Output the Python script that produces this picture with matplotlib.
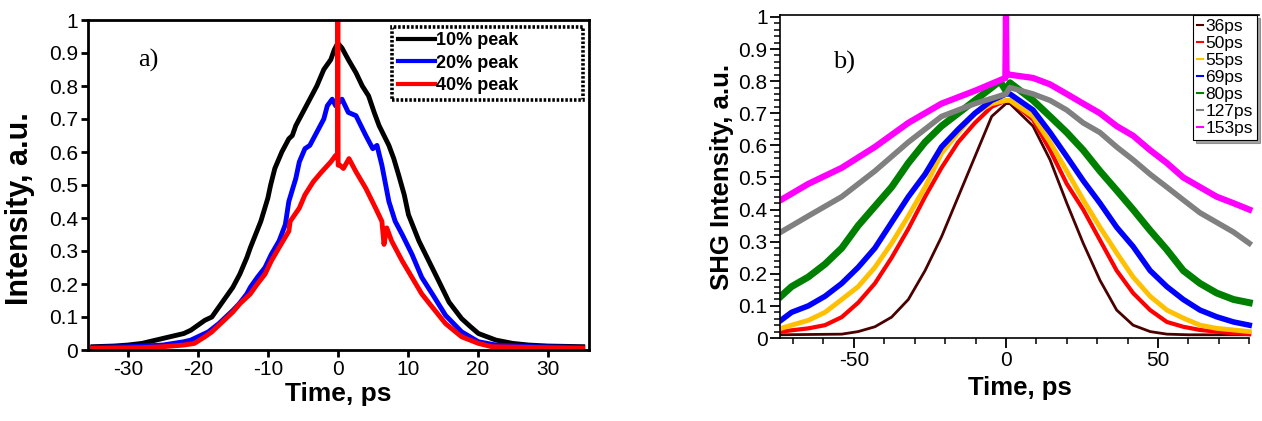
import matplotlib
matplotlib.use("Agg")
import matplotlib.pyplot as plt
from matplotlib.ticker import MultipleLocator, FuncFormatter

# ---------------- Panel a) data ----------------
t10 = [-35, -32, -30, -28, -26, -24, -22, -21, -20, -19, -18, -17, -16, -15, -14, -13, -12.5,
       -11, -10, -9.6, -9, -8, -7, -6.5, -6, -5, -4, -3, -2, -1, -0.5, 0, 0.6, 1.5, 2.6, 3.5,
       4.4, 5.2, 5.9, 7.3, 8, 8.7, 9.5, 10.1, 11.6, 13, 14.4, 15.9, 17.7, 19, 20.1, 22.6, 25,
       27.3, 30, 35]
y10 = [0.01, 0.012, 0.015, 0.02, 0.03, 0.04, 0.05, 0.06, 0.075, 0.09, 0.10, 0.13, 0.16, 0.19,
       0.23, 0.28, 0.31, 0.39, 0.46, 0.50, 0.55, 0.60, 0.64, 0.65, 0.68, 0.72, 0.76, 0.80, 0.85,
       0.88, 0.91, 0.93, 0.915, 0.88, 0.84, 0.80, 0.77, 0.72, 0.68, 0.62, 0.58, 0.53, 0.47,
       0.41, 0.33, 0.27, 0.21, 0.145, 0.095, 0.07, 0.05, 0.03, 0.02, 0.015, 0.012, 0.01]

t20 = [-35, -30, -25, -22, -21, -19.5, -18.5, -17, -16, -15, -14.1, -13, -12.5, -11.5, -10.4,
       -9.5, -8.4, -7.5, -7, -6, -5.5, -4.7, -4, -3, -2, -1.5, -0.8, -0.3, 0.6, 1.5, 2.6, 4, 5,
       5.6, 6.3, 7.3, 8.2, 9.2, 10.6, 12, 13.5, 15.4, 17.7, 20.1, 22.6, 28, 35]
y20 = [0.008, 0.01, 0.015, 0.025, 0.03, 0.045, 0.055, 0.08, 0.10, 0.12, 0.14, 0.17, 0.19, 0.22,
       0.25, 0.29, 0.33, 0.38, 0.45, 0.52, 0.57, 0.61, 0.62, 0.66, 0.70, 0.74, 0.76, 0.74, 0.76,
       0.72, 0.71, 0.65, 0.61, 0.62, 0.56, 0.45, 0.39, 0.35, 0.29, 0.22, 0.17, 0.105, 0.055,
       0.025, 0.015, 0.01, 0.008]

t40 = [-35, -28, -25, -22, -20.5, -19, -18, -17, -16, -15, -14, -12.5, -11.5, -10.4, -9.5, -8.4,
       -7, -6.8, -5.5, -4.7, -3.5, -2.3, -1, -0.3, -0.05, 0, 0.05, 0.3, 0.8, 1.6, 2.6, 4, 5.4,
       6.3, 6.6, 7, 7.7, 9.2, 10.6, 12, 13.5, 15.4, 17.7, 20.1, 22, 35]
y40 = [0.005, 0.007, 0.01, 0.015, 0.02, 0.04, 0.055, 0.075, 0.095, 0.115, 0.14, 0.17, 0.20,
       0.23, 0.27, 0.31, 0.36, 0.39, 0.43, 0.47, 0.51, 0.54, 0.57, 0.59, 0.58, 1.0, 0.56, 0.56,
       0.55, 0.58, 0.54, 0.49, 0.43, 0.39, 0.32, 0.37, 0.33, 0.27, 0.22, 0.17, 0.13, 0.08,
       0.04, 0.02, 0.01, 0.005]

labels_a = ["10% peak", "20% peak", "40% peak"]
colors_a = ["black", "#0000ff", "#ff0000"]

# ---------------- Panel b) data ----------------
t36 = [-74, -54, -48.6, -43.1, -37.6, -32.1, -26.6, -21.2, -15.7, -10.2, -4.7, 0, 1.3, 8.9,
       14.5, 20, 25.4, 30.9, 36.4, 41.8, 47.4, 52.9, 60, 80]
y36 = [0.01, 0.012, 0.02, 0.035, 0.065, 0.12, 0.21, 0.315, 0.44, 0.565, 0.69, 0.73, 0.73, 0.66,
       0.555, 0.42, 0.295, 0.18, 0.087, 0.04, 0.02, 0.012, 0.01, 0.01]

t50 = [-74, -65, -59.5, -54, -48.6, -43.1, -37.6, -32.1, -26.6, -21.2, -15.7, -10.2, -4.7, 0,
       1.3, 8.9, 14.5, 20, 25.4, 30.9, 36.4, 41.8, 47.4, 52.9, 58.3, 63.8, 74.8, 80]
y50 = [0.02, 0.03, 0.04, 0.065, 0.11, 0.17, 0.25, 0.34, 0.44, 0.53, 0.61, 0.67, 0.72, 0.74,
       0.74, 0.68, 0.585, 0.48, 0.40, 0.305, 0.21, 0.14, 0.087, 0.05, 0.035, 0.025, 0.015, 0.012]

t55 = [-74, -70.5, -65, -59.5, -54, -48.6, -43.1, -37.6, -32.1, -26.6, -21.2, -15.7, -10.2,
       -4.7, 0, 1.3, 8.9, 14.5, 20, 25.4, 30.9, 36.4, 41.8, 47.4, 52.9, 58.3, 63.8, 69.3, 74.8, 80]
y55 = [0.03, 0.04, 0.055, 0.08, 0.12, 0.16, 0.22, 0.295, 0.38, 0.47, 0.575, 0.64, 0.70, 0.73,
       0.74, 0.74, 0.69, 0.61, 0.52, 0.43, 0.345, 0.265, 0.19, 0.13, 0.087, 0.062, 0.04, 0.03,
       0.025, 0.02]

t69 = [-74, -70.5, -65, -59.5, -54, -48.6, -43.1, -37.6, -32.1, -26.6, -21.2, -15.7, -10.2,
       -4.7, 0, 1.3, 8.9, 14.5, 20, 25.4, 30.9, 36.4, 41.8, 47.4, 52.9, 58.3, 63.8, 69.3, 74.8, 80]
y69 = [0.055, 0.08, 0.10, 0.13, 0.17, 0.22, 0.28, 0.36, 0.44, 0.51, 0.595, 0.65, 0.70, 0.74,
       0.76, 0.76, 0.71, 0.64, 0.565, 0.49, 0.42, 0.345, 0.285, 0.21, 0.16, 0.12, 0.087, 0.066,
       0.05, 0.04]

t80 = [-74, -70.5, -65, -59.5, -54, -48.6, -43.1, -37.6, -32.1, -26.6, -21.2, -15.7, -10.2,
       -4.7, -2, 0, 1.3, 8.9, 14.5, 20, 25.4, 30.9, 36.4, 41.8, 47.4, 52.9, 58.3, 63.8, 69.3,
       74.8, 80]
y80 = [0.13, 0.16, 0.19, 0.23, 0.28, 0.35, 0.41, 0.47, 0.545, 0.61, 0.66, 0.70, 0.74, 0.78, 0.80,
       0.77, 0.795, 0.74, 0.69, 0.64, 0.585, 0.52, 0.46, 0.40, 0.335, 0.275, 0.21, 0.17, 0.14,
       0.12, 0.11]

t127 = [-74, -65, -54, -43.1, -32.1, -21.2, -10.2, 0, 1.3, 8.9, 14.5, 20, 25.4, 30.9, 36.4,
        41.8, 47.4, 52.9, 58.3, 63.8, 69.3, 74.8, 80]
y127 = [0.33, 0.38, 0.44, 0.52, 0.61, 0.69, 0.73, 0.76, 0.78, 0.76, 0.74, 0.71, 0.67, 0.64,
        0.595, 0.555, 0.51, 0.47, 0.43, 0.39, 0.36, 0.33, 0.295]

t153 = [-74, -65, -54, -43.1, -32.1, -21.2, -10.2, -0.2, 0, 0.2, 1.3, 8.9, 14.5, 20, 25.4, 30.9,
        36.4, 41.8, 47.4, 52.9, 58.3, 63.8, 69.3, 74.8, 80]
y153 = [0.43, 0.48, 0.53, 0.595, 0.67, 0.73, 0.77, 0.81, 1.0, 0.82, 0.82, 0.81, 0.79, 0.76, 0.73,
        0.70, 0.66, 0.63, 0.585, 0.545, 0.50, 0.47, 0.44, 0.42, 0.40]

labels_b = ["36ps", "50ps", "55ps", "69ps", "80ps", "127ps", "153ps"]
colors_b = ["#4a0000", "#ff0000", "#ffc000", "#0000ff", "#008000", "#808080", "#ff00ff"]

# ---------------- Figure ----------------
plt.rcParams['font.family'] = ['Liberation Sans', 'DejaVu Sans']
plt.rcParams['axes.unicode_minus'] = False
fig = plt.figure(figsize=(12.62, 4.21), dpi=100)

fmt = FuncFormatter(lambda v, p: ('%g' % round(v, 3)))

# Panel a
axa = fig.add_axes([88 / 1262, 71 / 421, 501 / 1262, 330 / 421])
series_a = [(t10, y10), (t20, y20), (t40, y40)]
for (tt, yy), c, lab in zip(series_a, colors_a, labels_a):
    axa.plot(tt, yy, color=c, lw=3.5, label=lab, solid_joinstyle='round')
axa.set_xlim(-35.7, 35.9)
axa.set_ylim(0, 1)
axa.xaxis.set_major_locator(MultipleLocator(10))
axa.yaxis.set_major_locator(MultipleLocator(0.1))
axa.yaxis.set_major_formatter(fmt)
axa.tick_params(direction='out', length=5, width=2, labelsize=15, pad=2,
                top=False, right=False)
for s in axa.spines.values():
    s.set_linewidth(2.0)
axa.set_xlabel("Time, ps", fontsize=19, fontweight='bold', labelpad=2)
axa.set_ylabel("Intensity, a.u.", fontsize=22, fontweight='bold')
axa.yaxis.set_label_coords(-0.106, 0.43)
axa.text(-28.6, 0.86, "a)", family='Liberation Serif', fontsize=19)
lega = axa.legend(loc='upper left', bbox_to_anchor=(0.607, 0.767, 0.381, 0.212), mode='expand',
                  borderaxespad=0, prop={'weight': 'bold', 'size': 13}, handlelength=2.1,
                  handletextpad=0.05, labelspacing=0.3, borderpad=0.3, fancybox=False,
                  framealpha=1)
fr = lega.get_frame()
fr.set_edgecolor('black')
fr.set_linewidth(2.6)
fr.set_linestyle((0, (0.7, 0.5)))
for l in lega.get_lines():
    l.set_linewidth(3)

# Panel b
axb = fig.add_axes([780 / 1262, 83 / 421, 479 / 1262, 323 / 421])
series_b = [(t36, y36), (t50, y50), (t55, y55), (t69, y69), (t80, y80), (t127, y127), (t153, y153)]
widths_b = [2.0, 3.0, 3.5, 4.0, 5.0, 4.0, 4.5]
for (tt, yy), c, lab, w in zip(series_b, colors_b, labels_b, widths_b):
    axb.plot(tt, yy, color=c, lw=w, label=lab)
axb.set_xlim(-74.3, 83.2)
axb.set_ylim(0, 1.006)
axb.xaxis.set_major_locator(MultipleLocator(50))
axb.xaxis.set_minor_locator(MultipleLocator(10))
axb.yaxis.set_major_locator(MultipleLocator(0.1))
axb.yaxis.set_minor_locator(MultipleLocator(0.02))
axb.yaxis.set_major_formatter(fmt)
axb.tick_params(which='major', direction='out', length=7, width=1.3, labelsize=15, pad=2)
axb.tick_params(which='minor', direction='out', length=4, width=1.1)
axb.spines['right'].set_visible(False)
axb.spines['bottom'].set_bounds(-74.3, 80)
for s in axb.spines.values():
    s.set_linewidth(1.2)
axb.set_xlabel("Time, ps", fontsize=18.5, fontweight='bold', labelpad=5)
axb.set_ylabel("SHG Intensity, a.u.", fontsize=18.5, fontweight='bold', labelpad=3)
axb.text(-57, 0.84, "b)", family='Liberation Serif', fontsize=19)
legb = axb.legend(loc='upper right', bbox_to_anchor=(0.996, 1.0), borderaxespad=0,
                  fontsize=12.5, handlelength=0.3, handletextpad=0.15, labelspacing=0.1,
                  borderpad=0.25, fancybox=False, framealpha=1, shadow=True)
legb.get_frame().set_edgecolor('black')
legb.get_frame().set_linewidth(0.8)
for l in legb.get_lines():
    l.set_linewidth(1.5)

fig.savefig("out.png", dpi=100)
